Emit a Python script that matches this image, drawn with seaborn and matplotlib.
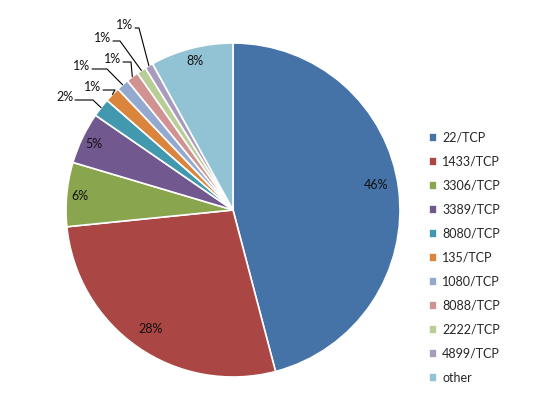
import numpy as np
import matplotlib
matplotlib.use("Agg")
import matplotlib.pyplot as plt
import seaborn as sns

# ── Data ──────────────────────────────────────────────────────────────────────

ports = ["22/TCP", "1433/TCP", "3306/TCP", "3389/TCP", "8080/TCP", "135/TCP",
         "1080/TCP", "8088/TCP", "2222/TCP", "4899/TCP", "other"]
shares = [45.9, 27.5, 6.2, 5.0, 1.8, 1.5, 1.2, 1.2, 0.9, 0.8, 8.0]
pct_labels = ["46%", "28%", "6%", "5%", "2%", "1%", "1%", "1%", "1%", "1%", "8%"]

colors = ["#4572A7", "#AA4643", "#89A54E", "#71588F", "#4198AF", "#DB843D",
          "#93A9CF", "#D19392", "#B9CD96", "#A99BBD", "#92C3D4"]

# ── Layout (pixels in the 548x418 image) ──────────────────────────────────────

W, H = 548, 418
CX, CY, R = 233, 210, 167

# inside labels: (radius factor, angle shift in degrees)
inside = {0: (0.87, 2.5), 1: (0.87, 0), 2: (0.92, 0), 3: (0.92, 0), 10: (0.92, 0)}
# outside labels: (text x, text y, elbow x)
outside = {4: (65, 97, 93), 5: (93, 87, 115), 6: (82, 66, 107),
           7: (113, 59, 131), 8: (103, 38, 120), 9: (125, 25, 139)}


def px(x, y):
    return (x - CX) / R, (CY - y) / R


sns.set_style("white")
plt.rcParams["font.family"] = ["Lato", "DejaVu Sans"]

fig = plt.figure(figsize=(W / 100, H / 100), dpi=100)
ax = fig.add_axes([(CX - R) / W, (H - CY - R) / H, 2 * R / W, 2 * R / H])

wedges, _ = ax.pie(shares, colors=sns.color_palette(colors), startangle=90,
                   counterclock=False, radius=1,
                   wedgeprops=dict(edgecolor="white", linewidth=1.2))
ax.set_xlim(-1, 1)
ax.set_ylim(-1, 1)
ax.set_aspect("equal")
ax.axis("off")

for i, w in enumerate(wedges):
    mid_deg = (w.theta1 + w.theta2) / 2
    if i in inside:
        r, shift = inside[i]
        mid = np.deg2rad(mid_deg + shift)
        ax.text(r * np.cos(mid), r * np.sin(mid), pct_labels[i],
                ha="center", va="center", fontsize=9, color="#111111")
    else:
        mid = np.deg2rad(mid_deg)
        tx, ty, ex = outside[i]
        x0, y0 = px(tx + 10, ty + 3)
        x1, y1 = px(ex, ty + 3)
        x2, y2 = np.cos(mid), np.sin(mid)
        ax.plot([x0, x1, x2], [y0, y1, y2], color="black", lw=0.8,
                clip_on=False)
        lx, ly = px(tx, ty)
        ax.text(lx, ly, pct_labels[i], ha="center", va="center",
                fontsize=9, color="#111111")

fig.legend(wedges, ports, loc="upper left",
           bbox_to_anchor=(424 / W, 1 - 127 / H), frameon=False,
           fontsize=9, handlelength=0.65, handleheight=0.65,
           handletextpad=0.4, labelspacing=0.96, borderaxespad=0)

fig.savefig("out.png", dpi=100)
